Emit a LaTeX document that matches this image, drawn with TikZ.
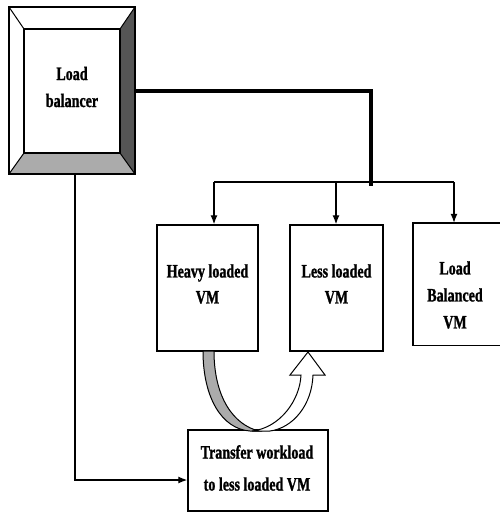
\documentclass[tikz,border=0pt]{standalone}
\usepackage{fontspec}
\setmainfont{Liberation Serif}[FakeStretch=0.74, FakeBold=1.2]
\usetikzlibrary{arrows.meta}
\definecolor{darkbevel}{HTML}{555555}
\definecolor{lightbevel}{HTML}{ABABAB}
\tikzset{
  vmbox/.style={draw, line width=1.4pt, fill=white, minimum width=#1, inner sep=0pt},
  lbl/.style={font=\fontsize{19}{26}\selectfont\bfseries, align=center, inner sep=0pt},
  conn/.style={line width=1.3pt},
  arr/.style={line width=1.3pt, -{Latex[length=9pt,width=7pt]}},
}
\begin{document}
\begin{tikzpicture}[x=1pt,y=-1pt]
\useasboundingbox (0,0) rectangle (500,512);
\clip (0,0) rectangle (500,512);
% Load balancer bevel box
\node[minimum width=126pt, minimum height=167pt, inner sep=0pt] (lb) at (72,90.5) {};
\coordinate (o1) at (9,7);   \coordinate (o2) at (135,7);
\coordinate (o3) at (135,174); \coordinate (o4) at (9,174);
\coordinate (i1) at (24,29); \coordinate (i2) at (120,29);
\coordinate (i3) at (120,153); \coordinate (i4) at (24,153);
\fill[white] (o1) -- (o2) -- (o3) -- (o4) -- cycle;
\fill[darkbevel] (o2) -- (o3) -- (i3) -- (i2) -- cycle;
\fill[lightbevel] (o4) -- (o3) -- (i3) -- (i4) -- cycle;
\draw[line width=1pt] (o1) -- (i1) (o2) -- (i2) (o3) -- (i3) (o4) -- (i4);
\draw[line width=1.2pt] (i1) rectangle (i3);
\draw[line width=1.6pt] (o1) rectangle (o3);
\node[lbl, font=\fontsize{19}{27}\selectfont\bfseries] (lbt) at (72,87) {Load\\balancer};
% VM boxes
\node[vmbox=101pt, minimum height=126pt] (heavy) at (207.5,288) {};
\node[lbl] (heavyt) at (207.5,284) {Heavy loaded\\VM};
\node[vmbox=93pt, minimum height=126pt] (less) at (336.5,288) {};
\node[lbl] (lesst) at (336.5,284) {Less loaded\\VM};
\node[minimum width=92pt, minimum height=122pt, inner sep=0pt] (bal) at (459,284) {};
\draw[line width=1.4pt] (bal.north east) ++(4,0) -- (bal.north west) -- (bal.south west) -- ++(96,0);
\node[lbl, font=\fontsize{19}{27}\selectfont\bfseries] (balt) at (455,295) {Load\\Balanced\\VM};
% Transfer box
\node[vmbox=140pt, minimum height=81pt] (tr) at (258,470.5) {};
\node[lbl, font=\fontsize{19}{32}\selectfont\bfseries] (trt) at (257,468) {Transfer workload\\to less loaded VM};
% connectors
\coordinate (c1) at (371,91);
\coordinate (c2) at (371,186);
\draw[line width=4.5pt] (lb.east |- c1) -- (c1) -- (c2);
\coordinate (hl) at (214,182);
\coordinate (hm) at (336,182);
\coordinate (hr) at (454,182);
\draw[conn] (hl) -- (hr);
\draw[arr] (hl) -- (hl |- heavy.north);
\draw[arr] (hm) -- (hm |- less.north);
\draw[arr] (hr) -- (hr |- bal.north);
\coordinate (d1) at (75,174);
\coordinate (d2) at (75,480);
\draw[arr] (d1) -- (d2) -- (d2 -| tr.west);
% curved transfer arrow
\draw[line width=1pt, fill=lightbevel] (203,351) .. controls (203,398) and (222,429) .. (250,431)
  -- (259,431) .. controls (234,425) and (214,398) .. (214,351) -- cycle;
\draw[line width=1pt, fill=white] (252,431) .. controls (280,428) and (300,400) .. (301,375)
  -- (290,375) -- (308,352) -- (325,375) -- (313,375)
  .. controls (312,405) and (293,428) .. (270,431) -- cycle;
\end{tikzpicture}
\end{document}
